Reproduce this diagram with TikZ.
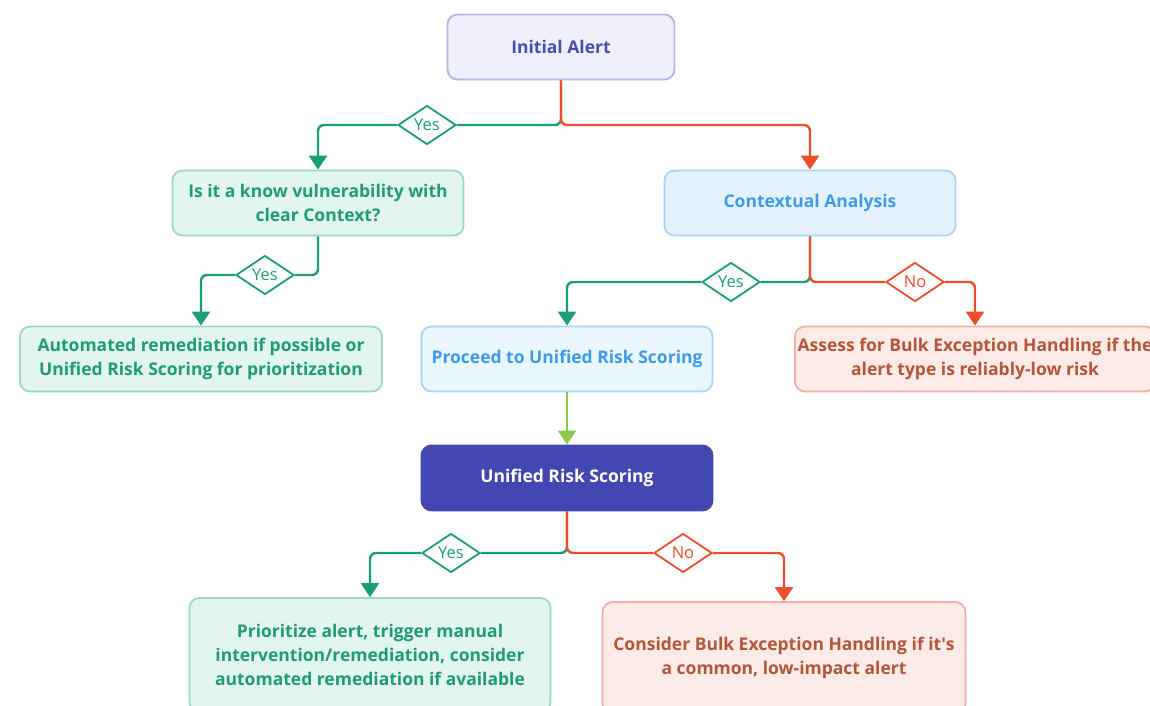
\documentclass[tikz,border=0pt]{standalone}
\usepackage{fontspec}
\setmainfont{Open Sans}
\usetikzlibrary{shapes.geometric, arrows.meta, positioning}
\definecolor{alertfill}{HTML}{EFF0FB}
\definecolor{alertline}{HTML}{B4B5E8}
\definecolor{alerttext}{HTML}{4A4DB5}
\definecolor{greenfill}{HTML}{E2F5EF}
\definecolor{greenline}{HTML}{9DD8C6}
\definecolor{greentext}{HTML}{1F9C77}
\definecolor{bluefill}{HTML}{E5F2FD}
\definecolor{paleblue}{HTML}{EBF7FE}
\definecolor{blueline}{HTML}{A8D4F5}
\definecolor{bluetext}{HTML}{3D9BE9}
\definecolor{redfill}{HTML}{FDEBE7}
\definecolor{redline}{HTML}{F2B0A2}
\definecolor{redtext}{HTML}{B5553A}
\definecolor{scorefill}{HTML}{4347B1}
\definecolor{yescol}{HTML}{1B9E77}
\definecolor{nocol}{HTML}{EC4D2C}
\definecolor{nextcol}{HTML}{8CCB4A}
\tikzset{
  font=\bfseries\fontsize{17.5}{24}\selectfont,   % bold labels in the boxes
  box/.style        = {rectangle, rounded corners=10pt, draw, line width=1.8pt,
                       align=center, minimum width=291pt, minimum height=65pt, inner sep=2pt},
  startbox/.style   = {box, fill=alertfill, draw=alertline, text=alerttext, minimum width=227pt},
  greenbox/.style   = {box, fill=greenfill, draw=greenline, text=greentext},
  bluebox/.style    = {box, fill=bluefill, draw=blueline, text=bluetext},
  redbox/.style     = {box, fill=redfill, draw=redline, text=redtext},
  scorebox/.style   = {box, fill=scorefill, draw=scorefill, text=white},
  decision/.style   = {diamond, draw, fill=white, line width=1.8pt, aspect=1.5,
                       inner sep=0pt, minimum width=58pt, minimum height=39pt,
                       font=\fontsize{16.5}{18}\selectfont},
  yesdec/.style     = {decision, draw=yescol, text=yescol},
  nodec/.style      = {decision, draw=nocol, text=nocol},
  yesline/.style    = {draw=yescol, line width=2.4pt, rounded corners=6pt},
  noline/.style     = {draw=nocol, line width=2.4pt, rounded corners=6pt},
  arrow/.style      = {-{Triangle[length=14pt, width=18pt]}}
}
\begin{document}
\begin{tikzpicture}[x=1pt, y=-1pt]
  \path[use as bounding box, clip] (0,0) rectangle (1150,706);
  % boxes
  \node[startbox] (alert) at (561,47) {Initial Alert};
  \node[greenbox] (known) at (318,203) {Is it a know vulnerability with\\clear Context?};
  \node[bluebox] (context) at (810,203) {Contextual Analysis};
  \node[greenbox, minimum width=362pt] (auto) at (201,359)
    {Automated remediation if possible or\\Unified Risk Scoring for prioritization};
  \node[bluebox, fill=paleblue] (proceed) at (567,359) {Proceed to Unified Risk Scoring};
  \node[redbox, minimum width=360pt] (assess) at (975,359)
    {Assess for Bulk Exception Handling if the\\alert type is reliably-low risk};
  \node[scorebox] (score) at (567,478) {Unified Risk Scoring};
  \node[greenbox, minimum width=361pt, minimum height=114pt] (prio) at (370,655)
    {Prioritize alert, trigger manual\\intervention/remediation, consider\\automated remediation if available};
  \node[redbox, minimum width=363pt, minimum height=112pt] (bulk) at (784,658)
    {Consider Bulk Exception Handling if it\textquotesingle s\\a common, low-impact alert};
  % yes / no marks
  \node[yesdec] (y1) at (427,125) {Yes};
  \node[yesdec] (y2) at (265,275) {Yes};
  \node[yesdec] (y3) at (731,282) {Yes};
  \node[nodec]  (n1) at (915,282) {No};
  \node[yesdec] (y4) at (451,553) {Yes};
  \node[nodec]  (n2) at (683,553) {No};
  % connectors
  \draw[yesline] (alert.south) |- (y1.east);
  \draw[yesline, arrow] (y1.west) -| (known.north);
  \draw[noline, arrow] (alert.south) -- (alert.south |- y1) -| (context.north);
  \draw[yesline] (known.south) |- (y2.east);
  \draw[yesline, arrow] (y2.west) -| (auto.north);
  \draw[yesline] (context.south) |- (y3.east);
  \draw[yesline, arrow] (y3.west) -| (proceed.north);
  \draw[noline] (context.south) |- (n1.west);
  \draw[noline, arrow] (n1.east) -| (assess.north);
  \draw[draw=nextcol, line width=2.4pt, arrow] (proceed) -- (score);
  \draw[yesline] (score.south) |- (y4.east);
  \draw[yesline, arrow] (y4.west) -| (prio.north);
  \draw[noline] (score.south) |- (n2.west);
  \draw[noline, arrow] (n2.east) -| (bulk.north);
\end{tikzpicture}
\end{document}
